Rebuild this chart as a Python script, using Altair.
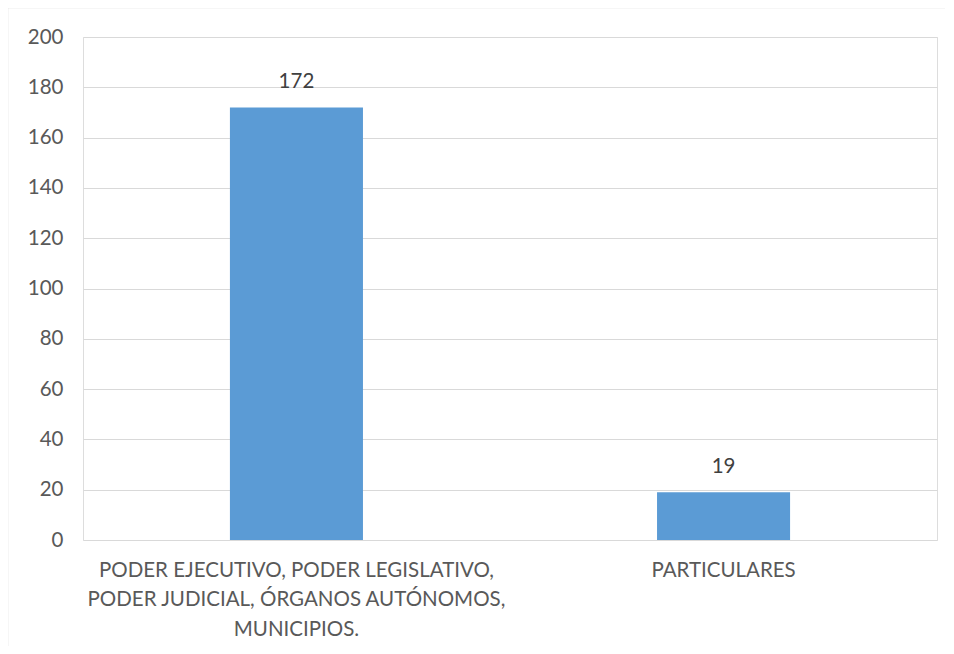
import altair as alt
import pandas as pd

categories = [
    "PODER EJECUTIVO, PODER LEGISLATIVO,\nPODER JUDICIAL, ÓRGANOS AUTÓNOMOS,\nMUNICIPIOS.",
    "PARTICULARES",
]
values = [172, 19]

df = pd.DataFrame({"cat": categories, "val": values})

FONT = "Lato"
GRAY = "#595959"
FS = 20.5

x = alt.X(
    "cat:N",
    sort=categories,
    title=None,
    scale=alt.Scale(paddingInner=0.6885, paddingOuter=0.344),
    axis=alt.Axis(
        labelAngle=0,
        labelExpr="split(datum.label, '\\n')",
        labelLineHeight=29.5,
        labelPadding=20,
        labelFontSize=FS,
        labelColor=GRAY,
        labelFont=FONT,
        ticks=False,
        domain=False,
        grid=False,
        labelLimit=600,
        labelBaseline="top",
    ),
)

y = alt.Y(
    "val:Q",
    title=None,
    scale=alt.Scale(domain=[0, 200], nice=False),
    axis=alt.Axis(
        values=list(range(0, 201, 20)),
        labelPadding=20,
        labelFontSize=FS,
        labelColor=GRAY,
        labelFont=FONT,
        ticks=False,
        domain=False,
        gridColor="#D9D9D9",
        gridWidth=1.2,
    ),
)

frame = pd.DataFrame({"a": [0]})
top_line = alt.Chart(frame).mark_rule(
    stroke="#D9D9D9", strokeWidth=1.5, clip=False
).encode(x=alt.value(-75.5), x2=alt.value(862), y=alt.value(-29.5))
left_line = alt.Chart(frame).mark_rule(
    stroke="#D9D9D9", strokeWidth=1.5, clip=False
).encode(x=alt.value(-75.5), y=alt.value(-29.5), y2=alt.value(700))

bars = alt.Chart(df).mark_bar(color="#5B9BD5").encode(x=x, y=y)

labels = alt.Chart(df).mark_text(
    baseline="middle", dy=-25, fontSize=FS, color="#404040", font=FONT
).encode(x=alt.X("cat:N", sort=categories), y="val:Q", text="val:Q")

chart = (
    alt.layer(top_line, left_line, bars, labels)
    .properties(
        width=854,
        height=503,
        autosize=alt.AutoSizeParams(type="none"),
        padding={"left": 75, "top": 29, "right": 9, "bottom": 106},
    )
    .configure_view(stroke="transparent")
    .configure(background="white")
)

chart.save("out.html", embed_options={"renderer": "svg", "actions": False})
